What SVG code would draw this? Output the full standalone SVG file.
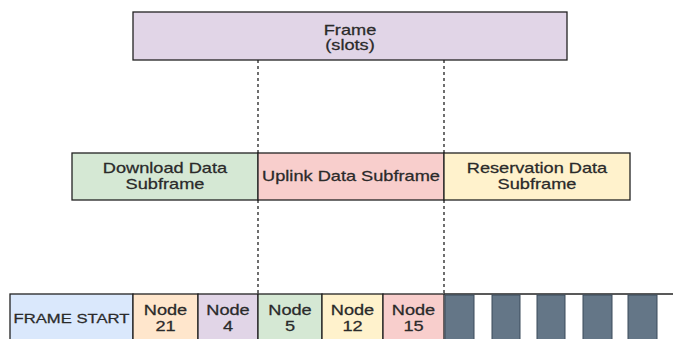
<svg xmlns="http://www.w3.org/2000/svg" width="673" height="339" viewBox="0 0 673 339">
<style>
.b{stroke:#222;stroke-width:1.3}
.t{font-family:"Liberation Sans",Arial,sans-serif;font-size:14px;fill:#2a2a2a;stroke:#2a2a2a;stroke-width:0.25;text-anchor:middle}
.s{font-size:13px}
.d{stroke:#222;stroke-width:1.3;stroke-dasharray:3 3;fill:none}
.g{fill:#647687;stroke:#3a4a5a;stroke-width:1}
</style>
<rect width="673" height="339" fill="#fff"/>
<g id="connectors">
<line class="d" x1="258" y1="60" x2="258" y2="153"/>
<line class="d" x1="444" y1="60" x2="444" y2="153"/>
<line class="d" x1="258" y1="200" x2="258" y2="294"/>
<line class="d" x1="444" y1="200" x2="444" y2="294"/>
</g>
<g id="frame">
<rect class="b" x="133" y="12" width="434" height="48" fill="#e1d5e7"/>
<text class="t" transform="translate(350,34.5) scale(1.3,1)">Frame</text>
<text class="t" transform="translate(350,50) scale(1.3,1)">(slots)</text>
</g>
<g id="download">
<rect class="b" x="72" y="153" width="186" height="47" fill="#d5e8d4"/>
<text class="t" transform="translate(165,173) scale(1.3,1)">Download Data</text>
<text class="t" transform="translate(165,189) scale(1.3,1)">Subframe</text>
</g>
<g id="uplink">
<rect class="b" x="258" y="153" width="186" height="47" fill="#f8cecc"/>
<text class="t" transform="translate(351,181) scale(1.3,1)">Uplink Data Subframe</text>
</g>
<g id="reservation">
<rect class="b" x="444" y="153" width="186" height="47" fill="#fff2cc"/>
<text class="t" transform="translate(537,173) scale(1.3,1)">Reservation Data</text>
<text class="t" transform="translate(537,189) scale(1.3,1)">Subframe</text>
</g>
<g id="framestart">
<rect class="b" x="10" y="294" width="123" height="50" fill="#dae8fc"/>
<text class="t s" transform="translate(71.5,323) scale(1.28,1)">FRAME START</text>
</g>
<g id="node21">
<rect class="b" x="133" y="294" width="65" height="50" fill="#ffe6cc"/>
<text class="t" transform="translate(165.5,315) scale(1.3,1)">Node</text>
<text class="t" transform="translate(165.5,331) scale(1.3,1)">21</text>
</g>
<g id="node4">
<rect class="b" x="198" y="294" width="60" height="50" fill="#e1d5e7"/>
<text class="t" transform="translate(228,315) scale(1.3,1)">Node</text>
<text class="t" transform="translate(228,331) scale(1.3,1)">4</text>
</g>
<g id="node5">
<rect class="b" x="258" y="294" width="64" height="50" fill="#d5e8d4"/>
<text class="t" transform="translate(290,315) scale(1.3,1)">Node</text>
<text class="t" transform="translate(290,331) scale(1.3,1)">5</text>
</g>
<g id="node12">
<rect class="b" x="322" y="294" width="61" height="50" fill="#fff2cc"/>
<text class="t" transform="translate(352.5,315) scale(1.3,1)">Node</text>
<text class="t" transform="translate(352.5,331) scale(1.3,1)">12</text>
</g>
<g id="node15">
<rect class="b" x="383" y="294" width="61" height="50" fill="#f8cecc"/>
<text class="t" transform="translate(413.5,315) scale(1.3,1)">Node</text>
<text class="t" transform="translate(413.5,331) scale(1.3,1)">15</text>
</g>
<g id="slots">
<line class="b" x1="444" y1="294" x2="673" y2="294"/>
<rect class="g" x="445" y="295" width="29" height="50"/>
<rect class="g" x="492" y="295" width="28" height="50"/>
<rect class="g" x="537" y="295" width="28" height="50"/>
<rect class="g" x="583" y="295" width="29" height="50"/>
<rect class="g" x="628" y="295" width="29" height="50"/>
</g>
</svg>
